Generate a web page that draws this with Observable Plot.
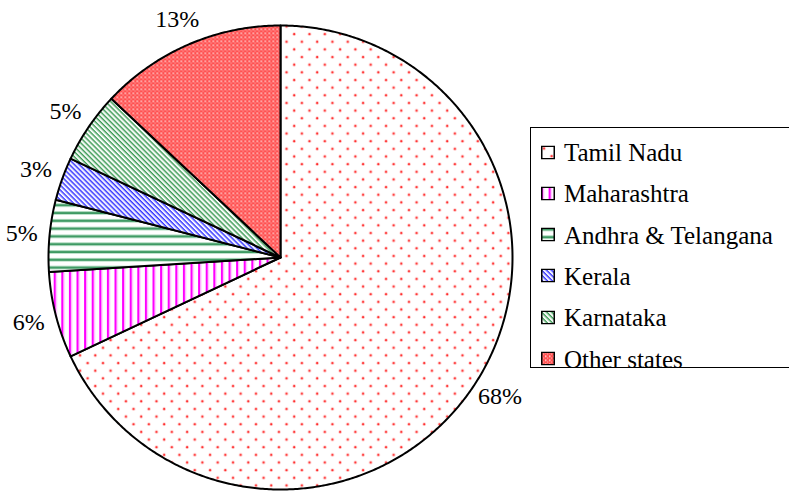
<!DOCTYPE html>
<html><head><meta charset="utf-8">
<script src="https://cdn.jsdelivr.net/npm/d3@7"></script>
<script src="https://cdn.jsdelivr.net/npm/@observablehq/plot@0.6"></script>
<style>
html,body{margin:0;padding:0;background:#fff;}
#wrap{position:relative;width:789px;height:492px;overflow:hidden;font-family:"Liberation Serif","Tinos","Times New Roman","DejaVu Serif",serif;background:#fff;}
#chart{position:absolute;left:0;top:0;}
#legend{position:absolute;left:530px;top:127px;width:290px;height:241px;border:1.5px solid #000;box-sizing:border-box;background:#fff;}
.item{position:absolute;left:10px;display:flex;align-items:center;font-size:25px;line-height:1;transform:translateY(-50%);white-space:nowrap;color:#000;}
.item svg{margin-right:9px;flex:none;}
</style>
</head><body>
<svg width="0" height="0" style="position:absolute">
  <defs>
    <pattern id="pTN" patternUnits="userSpaceOnUse" width="15.3" height="15.3">
      <rect width="15.3" height="15.3" fill="#fff"/>
      <circle cx="3" cy="3" r="1.7" fill="#ffc4c4"/>
      <circle cx="3" cy="3" r="1.05" fill="#ff2a2a"/>
      <circle cx="10.65" cy="10.65" r="1.7" fill="#ffc4c4"/>
      <circle cx="10.65" cy="10.65" r="1.05" fill="#ff2a2a"/>
    </pattern>
    <pattern id="pMH" patternUnits="userSpaceOnUse" width="7.6" height="10">
      <rect width="7.6" height="10" fill="#fff"/>
      <rect x="0" width="2.2" height="10" fill="#ff00ff"/>
      <rect x="2.2" width="1" height="10" fill="#ffb0ff"/>
    </pattern>
    <pattern id="pAP" patternUnits="userSpaceOnUse" width="10" height="7.8">
      <rect width="10" height="7.8" fill="#fff"/>
      <rect y="0" width="10" height="1" fill="#a9d6ba"/>
      <rect y="1" width="10" height="2" fill="#3e9a63"/>
      <rect y="3" width="10" height="0.8" fill="#b9dfc7"/>
    </pattern>
    <pattern id="pKE" patternUnits="userSpaceOnUse" width="3.5" height="3.5" patternTransform="rotate(45)">
      <rect width="3.5" height="3.5" fill="#fff"/>
      <rect y="0" width="3.5" height="1.5" fill="#3434ff"/>
      <rect y="1.5" width="3.5" height="0.5" fill="#a8a8ff"/>
    </pattern>
    <pattern id="pKA" patternUnits="userSpaceOnUse" width="3.6" height="3.6" patternTransform="rotate(45)">
      <rect width="3.6" height="3.6" fill="#fff"/>
      <rect y="0" width="3.6" height="1.5" fill="#3c9a55"/>
      <rect y="1.5" width="3.6" height="0.5" fill="#a6d4b2"/>
    </pattern>
    <pattern id="pOS" patternUnits="userSpaceOnUse" width="4" height="4">
      <rect width="4" height="4" fill="#ff5050"/>
      <rect x="0" y="0" width="1.5" height="1.5" fill="#ffe2e2"/>
      <rect x="2" y="2" width="1.2" height="1.2" fill="#ffaaaa"/>
    </pattern>
  </defs>
</svg>
<div id="wrap"><div id="chart"></div><div id="legend"></div></div>
<script>
const states = ["Tamil Nadu", "Maharashtra", "Andhra & Telangana", "Kerala", "Karnataka", "Other states"];
const shares = [68, 6, 5, 3, 5, 13];
const shareLabels = ["68%", "6%", "5%", "3%", "5%", "13%"];
const patternIds = ["pTN", "pMH", "pAP", "pKE", "pKA", "pOS"];

const serif = "'Liberation Serif', Tinos, 'Times New Roman', 'DejaVu Serif', serif";

const arcs = d3.pie().sort(null).value(d => d)(shares);
const slicePts = [];
arcs.forEach((p, i) => {
  slicePts.push({s: i, x: 0, y: 0});
  const n = Math.max(2, Math.ceil((p.endAngle - p.startAngle) / (Math.PI / 360)));
  for (let k = 0; k <= n; k++) {
    const a = p.startAngle + (p.endAngle - p.startAngle) * k / n;
    slicePts.push({s: i, x: Math.sin(a), y: Math.cos(a)});
  }
});
const labelPts = arcs.map((p, i) => {
  const a = (p.startAngle + p.endAngle) / 2;
  return {x: 1.12 * Math.sin(a), y: 1.12 * Math.cos(a), t: shareLabels[i]};
});

const chart = Plot.plot({
  width: 789, height: 492,
  marginLeft: 48, marginRight: 277, marginTop: 25, marginBottom: 3,
  x: {domain: [-1, 1], axis: null},
  y: {domain: [-1, 1], axis: null},
  color: {type: "identity"},
  style: {background: "transparent", fontFamily: serif, overflow: "visible"},
  marks: [
    Plot.line(slicePts, {x: "x", y: "y", z: "s", fill: d => `url(#${patternIds[d.s]})`,
      stroke: "#000", strokeWidth: 2, curve: "linear-closed", strokeLinejoin: "round"}),
    Plot.text(labelPts, {x: "x", y: "y", text: "t", fontSize: 24, fill: "#000", fontFamily: serif})
  ]
});
document.getElementById("chart").appendChild(chart);

const legend = d3.select("#legend");
states.forEach((s, i) => {
  const item = legend.append("div").attr("class", "item").style("top", (24 + i * 41.3) + "px");
  const sw = item.append("svg").attr("width", 14).attr("height", 14);
  sw.append("rect").attr("x", 0.75).attr("y", 0.75).attr("width", 12.5).attr("height", 12.5)
    .attr("fill", `url(#${patternIds[i]})`).attr("stroke", "#000").attr("stroke-width", 1.5);
  item.append("span").text(s);
});
</script>
</body></html>
